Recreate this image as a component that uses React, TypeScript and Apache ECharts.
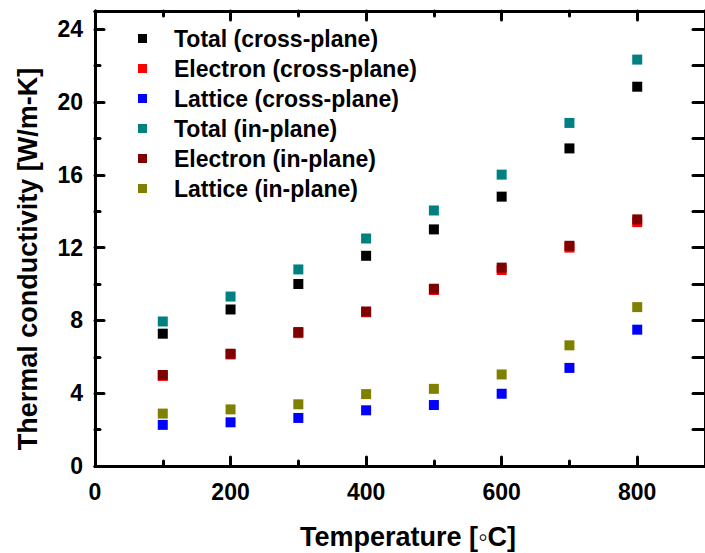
import React, { useEffect, useRef } from "react";
import * as echarts from "echarts";

const temps = [100, 200, 300, 400, 500, 600, 700, 800];
const totalCross = [7.27, 8.6, 10.0, 11.55, 13.0, 14.8, 17.45, 20.84];
const electronCross = [4.95, 6.13, 7.3, 8.45, 9.67, 10.77, 12.0, 13.4];
const latticeCross = [2.26, 2.4, 2.64, 3.06, 3.35, 3.97, 5.39, 7.49];
const totalIn = [7.94, 9.31, 10.8, 12.5, 14.04, 16.01, 18.85, 22.33];
const electronIn = [5.0, 6.17, 7.36, 8.49, 9.74, 10.9, 12.1, 13.55];
const latticeIn = [2.88, 3.11, 3.39, 3.95, 4.24, 5.03, 6.63, 8.73];

const seriesNames = [
  "Total (cross-plane)",
  "Electron (cross-plane)",
  "Lattice (cross-plane)",
  "Total (in-plane)",
  "Electron (in-plane)",
  "Lattice (in-plane)",
];
const seriesColors = ["#000000", "#ff0000", "#0000ff", "#008080", "#800000", "#808000"];
const seriesValues = [totalCross, electronCross, latticeCross, totalIn, electronIn, latticeIn];

const FONT = "'Liberation Sans', Arial, Helvetica, sans-serif";

export default function App() {
  const ref = useRef<HTMLDivElement>(null);
  useEffect(() => {
    if (!ref.current) return;
    const chart = echarts.init(ref.current, undefined, { renderer: "svg" });
    const axisLine = { show: true, onZero: false, lineStyle: { color: "#000", width: 3 } };
    const axisTick = { show: true, inside: true, length: 9, lineStyle: { color: "#000", width: 3, cap: "round" } };
    const minorTick = { show: true, splitNumber: 2, length: 5, lineStyle: { color: "#000", width: 3, cap: "round" } };
    const labelStyle = { color: "#000", fontSize: 23, fontWeight: "bold", fontFamily: FONT };
    chart.setOption({
      animation: false,
      backgroundColor: "#fff",
      grid: { left: 95, right: -9, top: 11, bottom: 87, containLabel: false },
      legend: {
        orient: "vertical",
        left: 133,
        top: 22,
        itemWidth: 9,
        itemHeight: 9,
        itemGap: 7,
        icon: "rect",
        data: seriesNames,
        textStyle: {
          color: "#000",
          fontSize: 23,
          fontWeight: "bold",
          fontFamily: FONT,
          lineHeight: 23,
          padding: [0, 0, 0, 22],
        },
      },
      xAxis: [
        {
          type: "value",
          min: 0,
          max: 900,
          interval: 200,
          position: "bottom",
          axisLine,
          axisTick,
          minorTick,
          splitLine: { show: false },
          axisLabel: { ...labelStyle, margin: 14, showMaxLabel: false },
        },
        {
          type: "value",
          min: 0,
          max: 900,
          interval: 200,
          position: "top",
          axisLine,
          axisTick,
          minorTick,
          splitLine: { show: false },
          axisLabel: { show: false },
        },
      ],
      yAxis: [
        {
          type: "value",
          min: 0,
          max: 25,
          interval: 4,
          position: "left",
          axisLine,
          axisTick,
          minorTick,
          splitLine: { show: false },
          axisLabel: { ...labelStyle, margin: 12, showMaxLabel: false },
        },
        {
          type: "value",
          min: 0,
          max: 25,
          interval: 4,
          position: "right",
          axisLine,
          axisTick: { ...axisTick, length: 12 },
          minorTick: { ...minorTick, length: 12 },
          splitLine: { show: false },
          axisLabel: { show: false },
        },
      ],
      graphic: [
        {
          type: "text",
          x: 28,
          y: 259,
          rotation: Math.PI / 2,
          style: {
            text: "Thermal conductivity [W/m-K]",
            font: `bold 27px ${FONT}`,
            fill: "#000",
            textAlign: "center",
            textVerticalAlign: "middle",
          },
        },
        {
          type: "text",
          x: 408,
          y: 537,
          style: {
            text: "Temperature [\u25E6C]",
            font: `bold 27px ${FONT}`,
            fill: "#000",
            textAlign: "center",
            textVerticalAlign: "middle",
          },
        },
      ],
      series: seriesNames.map((name, i) => ({
        name,
        type: "scatter",
        symbol: "rect",
        symbolSize: 10,
        itemStyle: { color: seriesColors[i], opacity: 1 },
        data: temps.map((t, j) => [t, seriesValues[i][j]]),
      })),
    });
    return () => chart.dispose();
  }, []);
  return (
    <div
      ref={ref}
      style={{ position: "fixed", left: 0, top: 0, width: 705, height: 553, background: "#fff" }}
    />
  );
}
